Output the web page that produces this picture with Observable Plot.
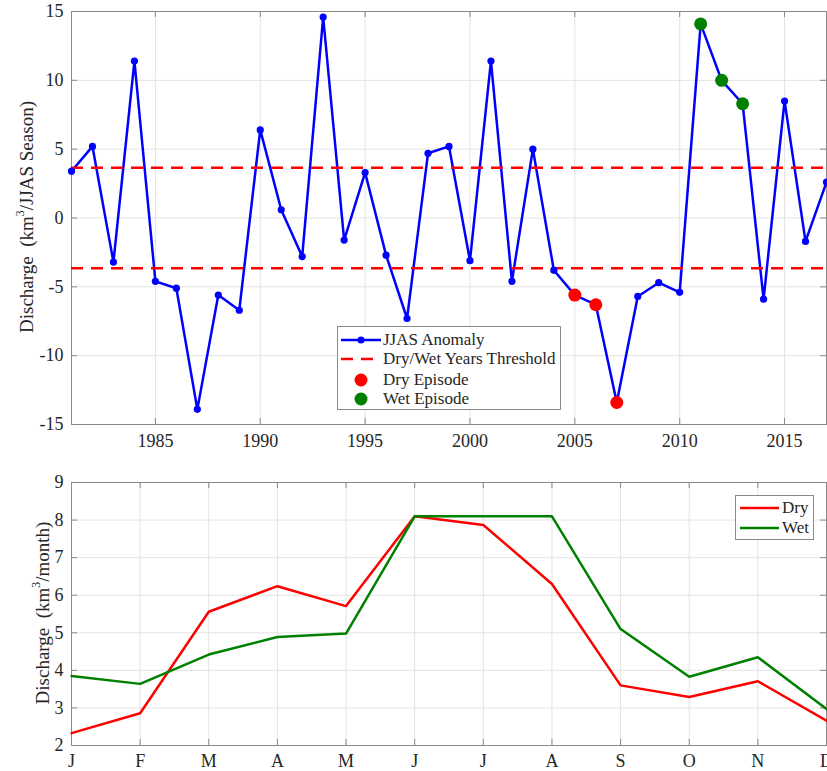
<!DOCTYPE html>
<html>
<head>
<meta charset="utf-8">
<script src="https://cdn.jsdelivr.net/npm/d3@7"></script>
<script src="https://cdn.jsdelivr.net/npm/@observablehq/plot@0.6"></script>
<style>
  html, body { margin: 0; padding: 0; background: white; }
  #wrap { position: relative; width: 827px; height: 771px; overflow: hidden; font-family: "Liberation Serif", serif; color: #262626; }
  #wrap svg { display: block; }
  .legend { position: absolute; background: white; border: 1px solid #8a8a8a; font-size: 17px; box-sizing: border-box; font-family: "Liberation Serif", serif; }
  .row { position: absolute; left: 0; height: 20px; display: flex; align-items: center; white-space: nowrap; }
  .row svg { flex: none; }
  .ylab { position: absolute; width: 400px; height: 24px; line-height: 24px; text-align: center; font-size: 19px; font-family: "Liberation Serif", serif; transform: rotate(-90deg); transform-origin: 50% 50%; white-space: nowrap; color: #262626; }
  .ylab sup { font-size: 0.62em; line-height: 0; vertical-align: 0.75em; }
</style>
</head>
<body>
<div id="wrap"></div>
<script>
// ---- Top panel data ----
const years = [1981,1982,1983,1984,1985,1986,1987,1988,1989,1990,1991,1992,1993,1994,1995,1996,1997,1998,1999,2000,2001,2002,2003,2004,2005,2006,2007,2008,2009,2010,2011,2012,2013,2014,2015,2016,2017];
const anomaly = [3.4,5.2,-3.2,11.4,-4.6,-5.1,-13.9,-5.6,-6.7,6.4,0.6,-2.8,14.6,-1.6,3.3,-2.7,-7.3,4.7,5.2,-3.1,11.4,-4.6,5.0,-3.8,-5.6,-6.3,-13.4,-5.7,-4.7,-5.4,14.1,10.0,8.3,-5.9,8.5,-1.7,2.6];
const dryYears = [2005, 2006, 2007];
const wetYears = [2011, 2012, 2013];
const thresholds = [3.65, -3.65];
const yearTicks = [1985, 1990, 1995, 2000, 2005, 2010, 2015];
const anomalyTicks = [-15, -10, -5, 0, 5, 10, 15];

// ---- Bottom panel data ----
const months = [1,2,3,4,5,6,7,8,9,10,11,12];
const monthLabels = ["J","F","M","A","M","J","J","A","S","O","N","D"];
const dryMonthly = [2.33,2.86,5.56,6.24,5.71,8.1,7.87,6.3,3.6,3.29,3.71,2.66];
const wetMonthly = [3.85,3.64,4.42,4.89,4.98,8.1,8.1,8.1,5.1,3.83,4.35,2.97];
const dischargeTicks = [2,3,4,5,6,7,8,9];

const series = years.map((y, i) => ({year: y, value: anomaly[i]}));
const dry = series.filter(d => dryYears.includes(d.year));
const wet = series.filter(d => wetYears.includes(d.year));
const monthly = [
  ...months.map((m, i) => ({month: m, value: dryMonthly[i], kind: "Dry"})),
  ...months.map((m, i) => ({month: m, value: wetMonthly[i], kind: "Wet"}))
];

const gridColor = "#e3e3e3";
const frameColor = "#8a8a8a";
const tickLen = 6;
const FF = "Liberation Serif";
const font = {fontFamily: FF, fontSize: "18px", color: "#262626", background: "white", overflow: "visible"};
const txt = {fontFamily: FF, fontSize: 18, fill: "#262626"};

function frameTicks(xt, yt, h, w, m) {
  const fh = h - m.top - m.bottom, fw = w - m.left - m.right;
  return [
    Plot.tickX(xt, {x: d => d, insetTop: fh - tickLen, stroke: frameColor}),
    Plot.tickX(xt, {x: d => d, insetBottom: fh - tickLen, stroke: frameColor}),
    Plot.tickY(yt, {y: d => d, insetRight: fw - tickLen, stroke: frameColor}),
    Plot.tickY(yt, {y: d => d, insetLeft: fw - tickLen, stroke: frameColor})
  ];
}

// ---- Top plot ----
const m1 = {top: 11, bottom: 31, left: 71, right: 1};
const W = 827, H1 = 455;
const topPlot = Plot.plot({
  width: W, height: H1,
  marginTop: m1.top, marginBottom: m1.bottom, marginLeft: m1.left, marginRight: m1.right,
  style: font,
  x: {domain: [1981, 2017], label: null},
  y: {domain: [-15, 15], label: null},
  marks: [
    Plot.gridX(yearTicks, {stroke: gridColor, strokeOpacity: 1}),
    Plot.gridY(anomalyTicks, {stroke: gridColor, strokeOpacity: 1}),
    Plot.frame({stroke: frameColor}),
    ...frameTicks(yearTicks, anomalyTicks, H1, W, m1),
    Plot.line(series, {x: "year", y: "value", stroke: "#0000ff", strokeWidth: 2.5}),
    Plot.ruleY(thresholds, {stroke: "#ff0000", strokeWidth: 2.5, strokeDasharray: "12,8"}),
    Plot.dot(series, {x: "year", y: "value", r: 3.6, fill: "#0000ff"}),
    Plot.dot(dry, {x: "year", y: "value", r: 6.5, fill: "#ff0000"}),
    Plot.dot(wet, {x: "year", y: "value", r: 6.5, fill: "#008000"}),
    Plot.axisX({ticks: yearTicks, tickFormat: d => String(d), tickSize: 0, tickPadding: 10, label: null, ...txt}),
    Plot.axisY({ticks: anomalyTicks, tickFormat: d => String(d), tickSize: 0, tickPadding: 8, label: null, ...txt}),
  ]
});

// ---- Bottom plot ----
const m2 = {top: 27, bottom: 26, left: 71, right: 1};
const H2 = 316;
const bottomPlot = Plot.plot({
  width: W, height: H2,
  marginTop: m2.top, marginBottom: m2.bottom, marginLeft: m2.left, marginRight: m2.right,
  style: font,
  x: {domain: [1, 12], label: null},
  y: {domain: [2, 9], label: null},
  color: {domain: ["Dry", "Wet"], range: ["#ff0000", "#008000"]},
  marks: [
    Plot.gridX(months, {stroke: gridColor, strokeOpacity: 1}),
    Plot.gridY(dischargeTicks, {stroke: gridColor, strokeOpacity: 1}),
    Plot.frame({stroke: frameColor}),
    ...frameTicks(months, dischargeTicks, H2, W, m2),
    Plot.line(monthly, {x: "month", y: "value", stroke: "kind", z: "kind", strokeWidth: 2.5}),
    Plot.axisX({ticks: months, tickFormat: d => monthLabels[d - 1], tickSize: 0, tickPadding: 9, label: null, ...txt}),
    Plot.axisY({ticks: dischargeTicks, tickFormat: d => String(d), tickSize: 0, tickPadding: 8, label: null, ...txt}),
  ]
});

const wrap = document.getElementById("wrap");
topPlot.style.position = "absolute"; topPlot.style.left = "0px"; topPlot.style.top = "0px";
bottomPlot.style.position = "absolute"; bottomPlot.style.left = "0px"; bottomPlot.style.top = H1 + "px";
wrap.appendChild(topPlot);
wrap.appendChild(bottomPlot);

// ---- Y-axis titles ----
function yTitle(cx, cy, html) {
  const d = document.createElement("div");
  d.className = "ylab";
  d.style.left = (cx - 200) + "px";
  d.style.top = (cy - 12) + "px";
  d.innerHTML = html;
  wrap.appendChild(d);
}
yTitle(27, 217, "Discharge&nbsp;&nbsp;(km<sup>3</sup>/JJAS Season)");
yTitle(43, 613, "Discharge&nbsp;&nbsp;(km<sup>3</sup>/month)");

// ---- Legends ----
function legend(x, y, w, h, rows, textLeft, rowTops) {
  const box = document.createElement("div");
  box.className = "legend";
  Object.assign(box.style, {left: x + "px", top: y + "px", width: w + "px", height: h + "px"});
  rows.forEach((r, i) => {
    const row = document.createElement("div");
    row.className = "row";
    row.style.top = rowTops[i] + "px";
    row.innerHTML = `<svg width="${textLeft}" height="20">${r.symbol}</svg><span>${r.label}</span>`;
    box.appendChild(row);
  });
  wrap.appendChild(box);
}
legend(337, 326, 224, 84, [
  {label: "JJAS Anomaly", symbol: '<line x1="3" x2="43" y1="10" y2="10" stroke="#0000ff" stroke-width="2.5"/><circle cx="23" cy="10" r="3.6" fill="#0000ff"/>'},
  {label: "Dry/Wet Years Threshold", symbol: '<line x1="3" x2="43" y1="10" y2="10" stroke="#ff0000" stroke-width="2.5" stroke-dasharray="12,8"/>'},
  {label: "Dry Episode", symbol: '<circle cx="23" cy="10" r="6.5" fill="#ff0000"/>'},
  {label: "Wet Episode", symbol: '<circle cx="23" cy="10" r="6.5" fill="#008000"/>'}
], 45, [3, 22, 43, 62]);
legend(735, 495, 79, 45, [
  {label: "Dry", symbol: '<line x1="4" x2="43" y1="10" y2="10" stroke="#ff0000" stroke-width="2.5"/>'},
  {label: "Wet", symbol: '<line x1="4" x2="43" y1="10" y2="10" stroke="#008000" stroke-width="2.5"/>'}
], 46, [2, 22]);
</script>
</body>
</html>
